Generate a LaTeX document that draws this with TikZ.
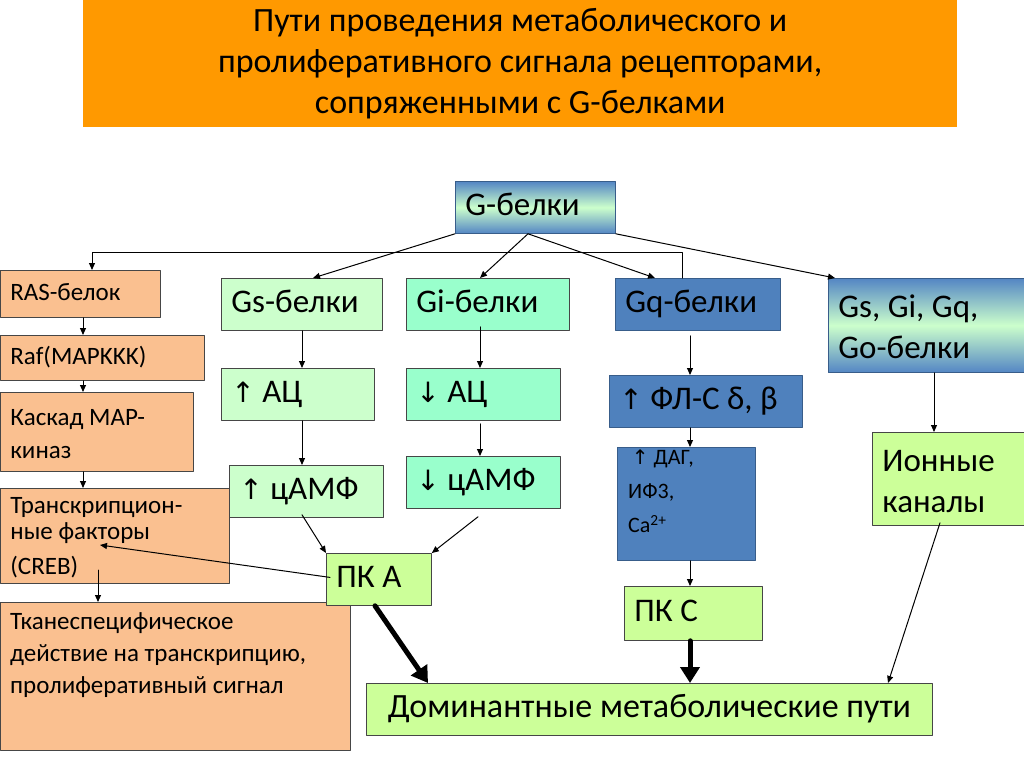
\documentclass[tikz,border=0pt]{standalone}
\usepackage{fontspec}
\setmainfont{Carlito}
\newfontfamily\symfont{DejaVu Sans}
\usetikzlibrary{arrows.meta,calc}

\definecolor{titleorange}{RGB}{255,153,0}
\definecolor{peach}{RGB}{250,192,144}
\definecolor{mintgreen}{RGB}{204,255,204}
\definecolor{aquagreen}{RGB}{153,255,204}
\definecolor{limegreen}{RGB}{204,255,153}
\definecolor{steelblue}{RGB}{79,129,189}
\definecolor{shadeblue}{RGB}{84,134,196}
\definecolor{edgeblue}{RGB}{56,93,138}
\definecolor{edgegray}{RGB}{70,70,70}

\newcommand{\uparr}{{\symfont\fontsize{28}{30}\selectfont ↑}}
\newcommand{\dnarr}{{\symfont\fontsize{28}{30}\selectfont ↓}}
\newcommand{\boxstrut}{\rule[-0.3em]{0pt}{1.1em}}
\newcommand{\smallstrut}{\rule[-0.25em]{0pt}{1em}}

\begin{document}
\begin{tikzpicture}[
  x=1pt, y=-1pt,
  every path/.style={line cap=round, line join=round},
  box/.style={draw=edgegray, line width=0.8pt, anchor=north west, inner xsep=10pt,
    inner ysep=0pt, align=flush left, font=\fontsize{33}{36}\selectfont,
    execute at begin node=\boxstrut},
  peachbox/.style={box, fill=peach, font=\fontsize{25}{28}\selectfont,
    execute at begin node=\smallstrut},
  mintbox/.style={box, fill=mintgreen},
  aquabox/.style={box, fill=aquagreen},
  limebox/.style={box, fill=limegreen},
  bluebox/.style={box, fill=steelblue, draw=edgeblue},
  shadebox/.style={box, draw=edgeblue, top color=shadeblue, bottom color=shadeblue,
    middle color=mintgreen},
  link/.style={-{Triangle[length=7pt,width=6pt]}, line width=1pt},
  fat/.style={-{Triangle[length=16pt,width=19pt]}, line width=5pt}
]
\fill[white] (0,0) rectangle (1024,767);
\useasboundingbox (0,0) rectangle (1024,767);

% ---------------- Title ----------------
\node[anchor=north west, fill=titleorange, minimum width=874, minimum height=127,
  text width=854, align=flush center, inner sep=0pt, font=\fontsize{34}{41}\selectfont]
  (title) at (83,0) {Пути проведения метаболического и\\
  пролиферативного сигнала рецепторами,\\сопряженными с G-белками};

% ---------------- G-proteins ----------------
\node[shadebox, minimum width=160, minimum height=52, text width=140] (gb) at (455,181) {G-белки};

% ---------------- Left column (RAS cascade) ----------------
\node[peachbox, minimum width=160, minimum height=47, text width=140] (ras) at (0,270) {RAS-белок};
\node[peachbox, minimum width=204, minimum height=45, text width=184] (raf) at (0,335) {Raf(MAPKKK)};
\node[peachbox, minimum width=193, minimum height=79, text width=173,
  font=\fontsize{25}{33}\selectfont] (kask) at (0,392) {Каскад MAP-\\киназ};
\node[peachbox, minimum width=229, minimum height=95, text width=209,
  font=\fontsize{25}{24}\selectfont] (trf) at (0,488) {Транскрипцион-\\ные факторы\\[11pt](CREB)};
\node[peachbox, minimum width=350, minimum height=148] (tkan) at (0,602) {};
\node[anchor=north west, align=flush left, inner sep=0pt, font=\fontsize{25}{32}\selectfont]
  (tkantext) at ($(tkan.north west)+(10,10)$)
  {Тканеспецифическое\\действие на транскрипцию,\\пролиферативный сигнал};

% ---------------- Gs / Gi columns ----------------
\node[mintbox, minimum width=161, minimum height=52, text width=141] (gs) at (221,278) {Gs-белки};
\node[mintbox, minimum width=153, minimum height=52, text width=133] (acup) at (221,368) {\uparr\ АЦ};
\node[mintbox, minimum width=154, minimum height=52, text width=134] (cup) at (229,465) {\uparr\ цАМФ};
\node[aquabox, minimum width=163, minimum height=52, text width=143] (gi) at (406,278) {Gi-белки};
\node[aquabox, minimum width=154, minimum height=52, text width=134] (acdn) at (406,368) {\dnarr\ АЦ};
\node[aquabox, minimum width=154, minimum height=52, text width=134] (cdn) at (406,456) {\dnarr\ цАМФ};
\node[limebox, minimum width=105, minimum height=52, text width=85] (pka) at (326,553) {ПК А};

% ---------------- Gq column ----------------
\node[bluebox, minimum width=165, minimum height=52, text width=145] (gq) at (615,278) {Gq-белки};
\node[bluebox, minimum width=193, minimum height=52, text width=173] (plc) at (609,375)
  {\mbox{\uparr\ ФЛ-С δ, β}};
\node[bluebox, minimum width=138, minimum height=113] (dag) at (617,447) {};
\node[anchor=north west, align=flush left, inner sep=0pt, font=\fontsize{22}{34}\selectfont]
  (dagtext) at ($(dag.north west)+(11,3)$)
  {\,{\symfont\fontsize{20}{22}\selectfont ↑} ДАГ,\\ИФ3,\\Ca\textsuperscript{2+}};
\node[limebox, minimum width=138, minimum height=54, text width=118] (pkc) at (624,586) {ПК С};

% ---------------- Right column ----------------
\node[shadebox, minimum width=200, minimum height=94, text width=180,
  font=\fontsize{33}{41}\selectfont] (gall) at (828,278) {Gs, Gi, Gq,\\Go-белки};
\node[limebox, minimum width=156, minimum height=93, text width=136,
  font=\fontsize{33}{41}\selectfont] (ion) at (872,432) {Ионные\\каналы};

% ---------------- Target ----------------
\node[limebox, minimum width=566, minimum height=52, text width=546, align=flush center,
  font=\fontsize{34}{36}\selectfont]
  (dom) at (366,683) {\mbox{Доминантные метаболические пути}};

% ---------------- Connectors ----------------
\draw[link] (gb.south west) -- ($(gs.north west)+(92,0)$);
\draw[link] ($(gb.south west)+(73,0)$) -- ($(gi.north west)+(74,0)$);
\draw[link] ($(gb.south west)+(73,0)$) -- ($(gq.north west)+(40,0)$);
\draw[link] (gb.south east) -- ($(gall.north west)+(7,0)$);
\draw[link] ($(gq.north west)+(67,0)$) -- ++(0,-26) -| ($(ras.north west)+(92,0)$);

\draw[link] ($(ras.south west)+(83,0)$) -- ($(raf.north west)+(83,0)$);
\draw[link] ($(raf.south west)+(83,0)$) -- ($(kask.north west)+(83,0)$);
\draw[link] ($(kask.south west)+(83,0)$) -- ($(trf.north west)+(83,0)$);
\draw[link] ($(trf.north west)+(98,82)$) -- ($(tkan.north west)+(98,0)$);
\draw[link] ($(pka.west)+(4,-2)$) -- ($(trf.north west)+(100,57)$);

\draw[link] ($(gs.south west)+(81,0)$) -- ($(acup.north west)+(81,0)$);
\draw[link] ($(acup.south west)+(81,0)$) -- ($(cup.north west)+(73,0)$);
\draw[link] ($(gi.south west)+(74,-4)$) -- ($(acdn.north west)+(74,0)$);
\draw[link] ($(acdn.south west)+(74,3)$) -- ($(cdn.north west)+(74,0)$);
\draw[link] ($(cup.south west)+(73,-3)$) -- (pka.north west);
\draw[link] ($(cdn.south west)+(72,8)$) -- (pka.north east);
\draw[fat] ($(pka.south west)+(49,0)$) -- ($(dom.north west)+(62,0)$);

\draw[link] ($(gq.south west)+(75,5)$) -- ($(plc.north west)+(81,0)$);
\draw[link] ($(plc.south west)+(81,0)$) -- ($(dag.north west)+(73,0)$);
\draw[link] ($(dag.south west)+(73,0)$) -- ($(pkc.north west)+(66,0)$);
\draw[fat] ($(pkc.south west)+(66,0)$) -- ($(dom.north west)+(324,0)$);

\draw[link] ($(gall.south west)+(106,0)$) -- ($(ion.north west)+(62,0)$);
\draw[link] ($(ion.south west)+(68,-3)$) -- ($(dom.north west)+(522,0)$);

\end{tikzpicture}
\end{document}
